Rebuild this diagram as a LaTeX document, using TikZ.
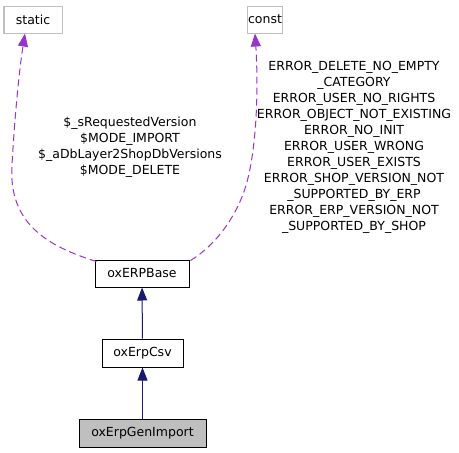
\documentclass[tikz,border=0pt]{standalone}
\usepackage{fontspec}
\setmainfont{DejaVu Sans}
\usepackage{tikz}
\usetikzlibrary{arrows.meta}

\definecolor{edgegray}{HTML}{BFBFBF}
\definecolor{usepurple}{HTML}{9A32CD}
\definecolor{inhblue}{HTML}{191970}

\tikzset{
	classbox/.style={draw=black, line width=1pt, inner sep=0pt,
		font=\fontsize{12.5}{16}\selectfont},
	extbox/.style={classbox, draw=edgegray},
	usage/.style={draw=usepurple, line width=1pt, dash pattern=on 7pt off 4pt,
		-{Triangle[length=13pt,width=10pt,fill=usepurple,sep=0pt]}},
	inherit/.style={draw=inhblue, line width=1pt,
		-{Triangle[length=13pt,width=10pt,fill=inhblue]}},
	memberlist/.style={align=center, inner sep=0pt,
		font=\fontsize{12.5}{16}\selectfont}
}

\begin{document}
\begin{tikzpicture}[x=1pt,y=-1pt]
	\useasboundingbox (0,0) rectangle (459,453);

	\node[extbox, minimum width=58pt, minimum height=27pt] (static) at (33,19.5) {static};
	\node[extbox, minimum width=35pt, minimum height=27pt] (const) at (265,19.5) {const};

	\node[classbox, minimum width=94pt, minimum height=27pt] (base) at (142,273.5) {oxERPBase};
	\node[classbox, minimum width=81pt, minimum height=28pt] (csv) at (142.5,353) {oxErpCsv};
	\node[classbox, fill=edgegray, minimum width=127pt, minimum height=28pt] (genimport) at (142.5,433) {oxErpGenImport};

	\node[memberlist] (staticvars) at (130,147)
		{\$\_sRequestedVersion\\\$MODE\_IMPORT\\\$\_aDbLayer2ShopDbVersions\\\$MODE\_DELETE};
	\node[memberlist] (constvars) at (354,147)
		{ERROR\_DELETE\_NO\_EMPTY\\\_CATEGORY\\ERROR\_USER\_NO\_RIGHTS\\ERROR\_OBJECT\_NOT\_EXISTING\\ERROR\_NO\_INIT\\ERROR\_USER\_WRONG\\ERROR\_USER\_EXISTS\\ERROR\_SHOP\_VERSION\_NOT\\\_SUPPORTED\_BY\_ERP\\ERROR\_ERP\_VERSION\_NOT\\\_SUPPORTED\_BY\_SHOP};

	% usage edges
	\path[usage] ([xshift=2pt,yshift=-2pt]base.north west)
		.. controls (50,247) and (8,225) .. (12,165)
		.. controls (15,110) and (20,65) .. ([xshift=-8pt]static.south);
	\path[usage] ([xshift=1pt,yshift=-1pt]base.north east)
		.. controls (216,245) and (238,215) .. (247,182)
		.. controls (258,140) and (258,80) .. ([xshift=-10pt]const.south);

	% inheritance
	\path[inherit] (csv) edge (base);
	\path[inherit] (genimport) edge (csv);

\end{tikzpicture}
\end{document}
